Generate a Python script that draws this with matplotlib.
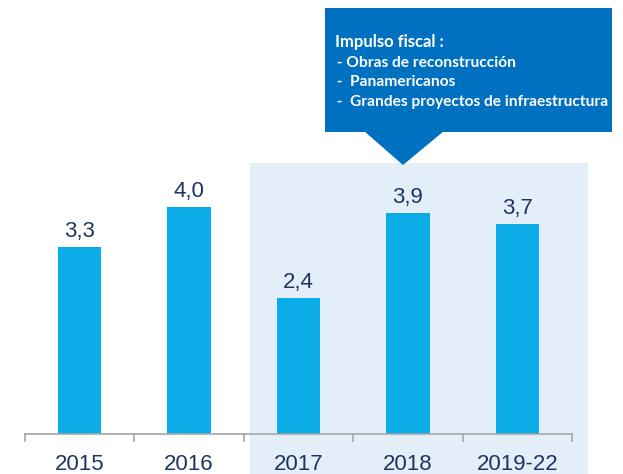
import matplotlib.pyplot as plt
from matplotlib.patches import Rectangle, Polygon

# data
categories = ['2015', '2016', '2017', '2018', '2019-22']
values = [3.3, 4.0, 2.4, 3.9, 3.7]
labels = ['3,3', '4,0', '2,4', '3,9', '3,7']
callout_title = 'Impulso fiscal :'
callout_items = [' - Obras de reconstrucción', ' -  Panamericanos', ' -  Grandes proyectos de infraestructura']

W, H = 623, 474
bar_color = '#0AADE8'
navy = '#1F3560'
shade = '#E4EEF8'
box_color = '#0070C0'


def px(x, y):
    # figure pixel (from top-left) -> figure fraction
    return x / W, 1 - y / H


fig = plt.figure(figsize=(W / 100, H / 100), dpi=100)
ax = fig.add_axes([0, 0, 1, 1])
ax.set_xlim(-0.7285, -0.7285 + W / 109.4)
ax.set_ylim(-40 / 56.75, 434 / 56.75)
ax.axis('off')

# shaded projection area (behind bars)
x0, y0 = px(250, 474)
x1, y1 = px(588, 163)
ax.add_patch(Rectangle((x0, y0), x1 - x0, y1 - y0, transform=fig.transFigure,
                       facecolor=shade, edgecolor='none', zorder=0))

xs = range(len(categories))
ax.bar(xs, values, width=0.395, color=bar_color, zorder=2)

# axis line with ticks between categories
ax.plot([-0.5, len(categories) - 0.5], [0, 0], color='#A6A6A6', lw=1.2, zorder=3)
for i in range(len(categories) + 1):
    ax.plot([i - 0.5, i - 0.5], [0, -0.125], color='#A6A6A6', lw=1.2, zorder=3)

for i, (v, lab, cat) in enumerate(zip(values, labels, categories)):
    ax.text(i, v + 0.17, lab, ha='center', va='baseline', fontsize=16,
            color=navy, family='Liberation Sans')
    ax.text(i, -0.63, cat, ha='center', va='baseline', fontsize=16,
            color=navy, family='Liberation Sans')

# callout box
bx0, by0 = px(325, 132)
bx1, by1 = px(612, 8)
ax.add_patch(Rectangle((bx0, by0), bx1 - bx0, by1 - by0, transform=fig.transFigure,
                       facecolor=box_color, edgecolor='none', zorder=5))
tri = [px(364, 131), px(444, 131), px(403, 165)]
ax.add_patch(Polygon(tri, closed=True, transform=fig.transFigure,
                     facecolor=box_color, edgecolor='none', zorder=5))

tx, ty = px(335, 47)
fig.text(tx, ty, callout_title, color='white', fontsize=12, fontweight='bold',
         family='Lato', va='baseline', zorder=6)
for k, item in enumerate(callout_items):
    tx, ty = px(333, 67 + k * 19.5)
    fig.text(tx, ty, item, color='white', fontsize=11.2, fontweight='bold',
             family='Lato', va='baseline', zorder=6)

fig.savefig('out.png', dpi=100)
